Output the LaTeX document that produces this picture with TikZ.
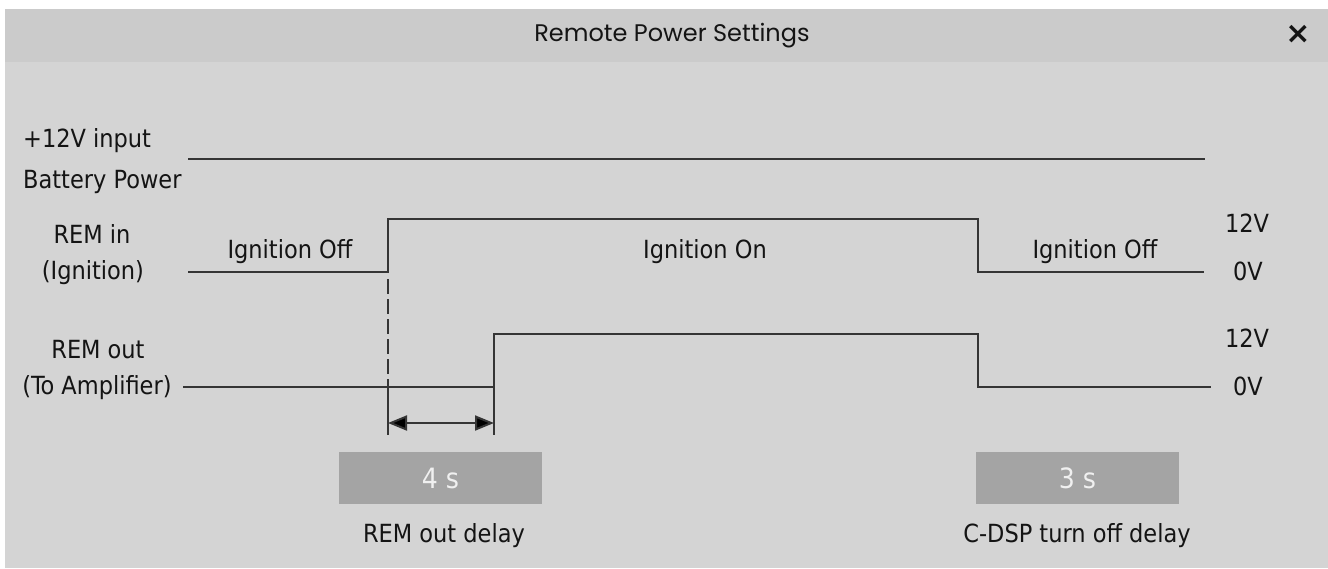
\documentclass[tikz,border=0pt]{standalone}
\usepackage{fontspec}
\setmainfont{DejaVu Sans Condensed}
\newfontfamily\titlefont{Poppins}
\newfontfamily\symfont{DejaVu Sans}
\usetikzlibrary{arrows.meta}
\definecolor{winbg}{HTML}{D4D4D4}
\definecolor{titlebg}{HTML}{CBCBCB}
\definecolor{sigline}{HTML}{353535}
\definecolor{boxfill}{HTML}{A4A4A4}
\definecolor{boxtext}{HTML}{F0F0F0}
\definecolor{txt}{HTML}{141414}
\tikzset{
  signal/.style={line width=2.8pt, draw=sigline},
  lbl/.style={anchor=base, text=txt, inner sep=0pt, font=\fontsize{25}{30}\selectfont},
  lblwest/.style={lbl, anchor=base west},
  delaybox/.style={fill=boxfill, text=boxtext, minimum width=203pt, minimum height=52pt, inner sep=0pt, font=\fontsize{28}{30}\selectfont},
  tick/.style={line width=2pt, draw=sigline}
}
\begin{document}
\begin{tikzpicture}[x=1pt, y=-1pt]
  \useasboundingbox (0,0) rectangle (1328,568);
  \fill[white] (0,0) rectangle (1328,568);
  \fill[titlebg] (5,9) rectangle (1328,62);
  \fill[winbg] (5,62) rectangle (1328,568);
  \node[text=txt, font=\titlefont\fontsize{24}{28}\selectfont] (title) at (672,36) {Remote Power Settings};
  \node[text=txt, font=\symfont\bfseries\fontsize{30}{30}\selectfont, inner sep=0pt] (close) at (1298,34) {×};

  % labels on the left
  \node[lblwest] (batt1) at (23,147) {+12V input};
  \node[lblwest] (batt2) at (23,188) {Battery Power};
  \node[lbl] (remin1) at (92,243) {REM in};
  \node[lbl] (remin2) at (93,279) {(Ignition)};
  \node[lbl] (remout1) at (98,358) {REM out};
  \node[lbl] (remout2) at (97,394) {(To Amplifier)};

  % the waveforms
  \draw[signal] (188,159) -- (1205,159);
  \draw[signal] (188,272) -| (388,219) -| (978,272) -- (1204,272);
  \draw[signal] (183,387) -| (494,334) -| (978,387) -- (1211,387);

  \node[lbl] (off1) at (290,258) {Ignition Off};
  \node[lbl] (on) at (705,258) {Ignition On};
  \node[lbl] (off2) at (1095,258) {Ignition Off};
  \node[lbl] (hi1) at (1247,232) {12V};
  \node[lbl] (lo1) at (1248,280) {0V};
  \node[lbl] (hi2) at (1247,347) {12V};
  \node[lbl] (lo2) at (1248,395) {0V};

  % delay marker
  \coordinate (inup) at (388,279);
  \coordinate (inbase) at (388,387);
  \coordinate (outup) at (494,387);
  \coordinate (tickl) at (388,435);
  \coordinate (tickr) at (494,435);
  \coordinate (arrl) at (388,423);
  \coordinate (arrr) at (494,423);
  \draw[tick, dash pattern=on 15pt off 5pt] (inup) -- (inbase);
  \draw[tick] (inbase) -- (tickl);
  \draw[tick] (outup) -- (tickr);
  \draw[tick, {Triangle[length=19pt,width=15pt,fill=black]}-{Triangle[length=19pt,width=15pt,fill=black]}] (arrl) -- (arrr);

  % delay boxes
  \node[delaybox] (ondelay) at (440.5,478) {4\hspace{8pt}s};
  \node[delaybox] (offdelay) at (1077.5,478) {3\hspace{8pt}s};
  \node[lbl] (ondelaytxt) at (444,542) {REM out delay};
  \node[lbl] (offdelaytxt) at (1077,542) {C-DSP turn off delay};
\end{tikzpicture}
\end{document}
